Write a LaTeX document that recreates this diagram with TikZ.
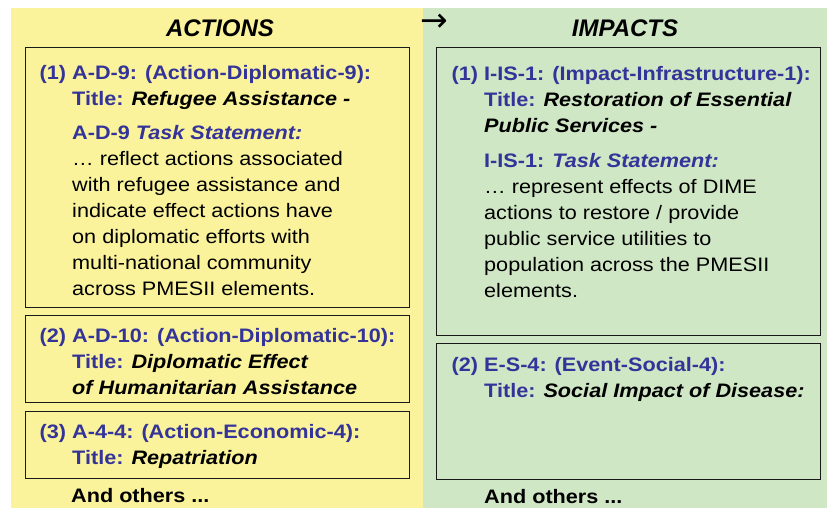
\documentclass[tikz,border=0pt]{standalone}
\usepackage{fontspec}
\setmainfont[FakeStretch=1.11]{Liberation Sans}
\newfontfamily\headfont{Liberation Sans}
\newfontfamily\arrowfont{DejaVu Sans}
\definecolor{panelY}{RGB}{250,243,155}
\definecolor{panelG}{RGB}{208,231,197}
\definecolor{tblue}{RGB}{51,51,153}
\newcommand{\blu}[1]{\textcolor{tblue}{\bfseries #1}}
\newcommand{\tit}[1]{{\bfseries\itshape #1}}
\newcommand{\fst}{\rule{0pt}{20pt}}
\tikzset{
  frame/.style={draw=black!90, line width=1.3pt, anchor=north west, inner sep=0pt},
  txt/.style={anchor=north west, inner sep=0pt, align=left, font={\fontsize{19.5}{26}\selectfont}},
  head/.style={anchor=base, inner sep=0pt, font={\headfont\fontsize{24}{28}\selectfont\bfseries\itshape}}
}
\begin{document}
\begin{tikzpicture}[x=1pt,y=-1pt]
\useasboundingbox (0,0) rectangle (827,508);
\fill[panelY] (11,8) rectangle (423,508);
\fill[panelG] (423,8) rectangle (827,508);

\node[head] (hA) at (220,37) {ACTIONS};
\node[head] (hI) at (625,37) {IMPACTS};
\node[anchor=center, inner sep=0pt, font={\arrowfont\fontsize{33}{36}\selectfont}] (arr) at (434,23) {→};

% frames
\node[frame, minimum width=384pt, minimum height=260pt] (a1) at (25,47) {};
\node[frame, minimum width=384pt, minimum height=87pt] (a2) at (25,315) {};
\node[frame, minimum width=384pt, minimum height=67pt] (a3) at (25,411) {};
\node[frame, minimum width=384pt, minimum height=288pt] (i1) at (436,47) {};
\node[frame, minimum width=384pt, minimum height=136pt] (i2) at (436,343) {};

% texts
\node[txt] (a1t) at (72,59) {\fst\llap{\blu{(1) }}\blu{A-D-9: (Action-Diplomatic-9):}\\
\blu{Title: }\tit{Refugee Assistance -}\\[8pt]
\blu{A-D-9 \itshape Task Statement:}\\
… reflect actions associated\\
with refugee assistance and\\
indicate effect actions have\\
on diplomatic efforts with\\
multi-national community\\
across PMESII elements.};

\node[txt] (a2t) at (72,322) {\fst\llap{\blu{(2) }}\blu{A-D-10: (Action-Diplomatic-10):}\\
\blu{Title: }\tit{Diplomatic Effect}\\
\tit{of Humanitarian Assistance}};

\node[txt] (a3t) at (72,418) {\fst\llap{\blu{(3) }}\blu{A-4-4: (Action-Economic-4):}\\
\blu{Title: }\tit{Repatriation}};

\node[txt] (i1t) at (484,60) {\fst\llap{\blu{(1) }}\blu{I-IS-1: (Impact-Infrastructure-1):}\\
\blu{Title: }\tit{Restoration of Essential}\\
\tit{Public Services -}\\[9pt]
\blu{I-IS-1: \itshape Task Statement:}\\
… represent effects of DIME\\
actions to restore / provide\\
public service utilities to\\
population across the PMESII\\
elements.};

\node[txt] (i2t) at (484,351) {\fst\llap{\blu{(2) }}\blu{E-S-4: (Event-Social-4):}\\
\blu{Title: }\tit{Social Impact of Disease:}};

\node[txt] (ao) at (71,482) {\fst\bfseries And others ...};
\node[txt] (io) at (484,483) {\fst\bfseries And others ...};
\end{tikzpicture}
\end{document}
